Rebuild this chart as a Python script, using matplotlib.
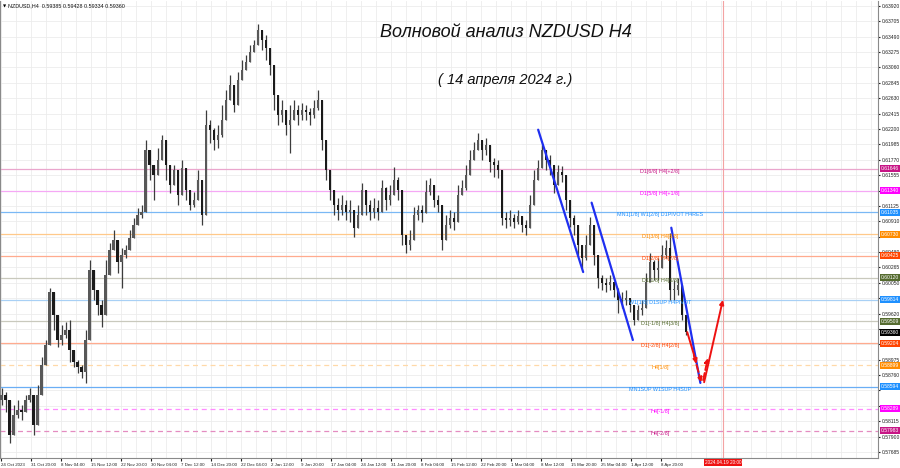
import matplotlib

matplotlib.use("Agg")
import matplotlib.pyplot as plt  # noqa: E402
from matplotlib.transforms import blended_transform_factory  # noqa: E402

NARROW = ["Liberation Sans Narrow", "Liberation Sans", "DejaVu Sans"]

# --- price data: one candle per ~4.3 H4 bars -----------------------------
highs = [
    0.5858, 0.5852, 0.5820, 0.5834, 0.5841, 0.5834, 0.5848, 0.5858, 0.5848, 0.5862,
    0.5901, 0.5925, 0.5998, 0.5981, 0.5939, 0.5946, 0.5950, 0.5953, 0.5904, 0.5897,
    0.5890, 0.5939, 0.6037, 0.6012, 0.5988, 0.5981, 0.6037, 0.6061, 0.6079, 0.6051,
    0.6054, 0.6058, 0.6079, 0.6096, 0.6110, 0.6114, 0.6205, 0.6191, 0.6170, 0.6193,
    0.6212, 0.6184, 0.6163, 0.6170, 0.6149, 0.6177, 0.6149, 0.6124, 0.6132, 0.6163,
    0.6114, 0.6247, 0.6233, 0.6221, 0.6226, 0.6254, 0.6275, 0.6296, 0.6275, 0.6300,
    0.6317, 0.6324, 0.6337, 0.6345, 0.6367, 0.6356, 0.6351, 0.6324, 0.6282, 0.6261,
    0.6261, 0.6247, 0.6254, 0.6261, 0.6254, 0.6256, 0.6254, 0.6249, 0.6261, 0.6275,
    0.6240, 0.6191, 0.6156, 0.6128, 0.6124, 0.6128, 0.6121, 0.6121, 0.6100, 0.6114,
    0.6145, 0.6128, 0.6121, 0.6124, 0.6121, 0.6149, 0.6139, 0.6142, 0.6167, 0.6153,
    0.6128, 0.6072, 0.6079, 0.6111, 0.6114, 0.6114, 0.6149, 0.6152, 0.6135, 0.6128,
    0.6082, 0.6100, 0.6107, 0.6104, 0.6142, 0.6149, 0.6170, 0.6191, 0.6202, 0.6215,
    0.6205, 0.6207, 0.6184, 0.6180, 0.6177, 0.6114, 0.6104, 0.6107, 0.6101, 0.6107,
    0.6098, 0.6093, 0.6128, 0.6163, 0.6177, 0.6198, 0.6188, 0.6184, 0.6156, 0.6170,
    0.6168, 0.6135, 0.6110, 0.6100, 0.6072, 0.6054, 0.6072, 0.6097, 0.6058, 0.6030,
    0.6016, 0.6012, 0.6016, 0.6005, 0.5998, 0.5992, 0.5995, 0.5984, 0.5967, 0.5974,
    0.5981, 0.6019, 0.6047, 0.6037, 0.6040, 0.6058, 0.6065, 0.6075, 0.6009, 0.6012,
    0.5988, 0.5956,
]
lows = [
    0.5834, 0.5824, 0.5781, 0.5806, 0.5816, 0.5813, 0.5827, 0.5838, 0.5792, 0.5834,
    0.5880, 0.5897, 0.5953, 0.5939, 0.5915, 0.5918, 0.5928, 0.5894, 0.5887, 0.5879,
    0.5872, 0.5865, 0.5981, 0.5981, 0.5960, 0.5943, 0.5995, 0.6030, 0.6055, 0.6019,
    0.5998, 0.6040, 0.6058, 0.6076, 0.6093, 0.6096, 0.6104, 0.6149, 0.6121, 0.6156,
    0.6191, 0.6149, 0.6131, 0.6149, 0.6114, 0.6156, 0.6121, 0.6107, 0.6111, 0.6128,
    0.6086, 0.6100, 0.6200, 0.6191, 0.6193, 0.6209, 0.6247, 0.6261, 0.6244, 0.6275,
    0.6291, 0.6303, 0.6319, 0.6328, 0.6337, 0.6330, 0.6317, 0.6296, 0.6247, 0.6226,
    0.6230, 0.6212, 0.6187, 0.6233, 0.6226, 0.6233, 0.6233, 0.6226, 0.6235, 0.6247,
    0.6191, 0.6149, 0.6121, 0.6100, 0.6093, 0.6100, 0.6093, 0.6090, 0.6069, 0.6086,
    0.6114, 0.6100, 0.6093, 0.6096, 0.6093, 0.6124, 0.6107, 0.6114, 0.6128, 0.6121,
    0.6058, 0.6047, 0.6051, 0.6086, 0.6093, 0.6090, 0.6117, 0.6128, 0.6111, 0.6104,
    0.6051, 0.6072, 0.6082, 0.6079, 0.6114, 0.6128, 0.6135, 0.6163, 0.6177, 0.6191,
    0.6177, 0.6184, 0.6160, 0.6153, 0.6152, 0.6086, 0.6082, 0.6084, 0.6082, 0.6087,
    0.6076, 0.6072, 0.6086, 0.6135, 0.6153, 0.6170, 0.6163, 0.6156, 0.6131, 0.6149,
    0.6146, 0.6107, 0.6083, 0.6072, 0.6044, 0.6026, 0.6037, 0.6065, 0.6030, 0.5998,
    0.5995, 0.5992, 0.5995, 0.5985, 0.5963, 0.5970, 0.5974, 0.5964, 0.5946, 0.5956,
    0.5960, 0.5995, 0.6016, 0.6009, 0.6009, 0.6033, 0.6040, 0.5981, 0.5981, 0.5988,
    0.5953, 0.5932,
]
closes = [
    0.5848, 0.5841, 0.5792, 0.5820, 0.5827, 0.5824, 0.5841, 0.5848, 0.5806, 0.5848,
    0.5890, 0.5918, 0.5992, 0.5960, 0.5925, 0.5932, 0.5939, 0.5911, 0.5894, 0.5887,
    0.5880, 0.5925, 0.6023, 0.5995, 0.5974, 0.5960, 0.6016, 0.6051, 0.6065, 0.6034,
    0.6044, 0.6051, 0.6068, 0.6086, 0.6100, 0.6104, 0.6191, 0.6170, 0.6156, 0.6177,
    0.6205, 0.6170, 0.6142, 0.6163, 0.6128, 0.6166, 0.6135, 0.6114, 0.6121, 0.6149,
    0.6100, 0.6226, 0.6219, 0.6205, 0.6212, 0.6233, 0.6261, 0.6282, 0.6254, 0.6289,
    0.6303, 0.6314, 0.6328, 0.6337, 0.6358, 0.6345, 0.6333, 0.6310, 0.6268, 0.6240,
    0.6247, 0.6226, 0.6233, 0.6247, 0.6240, 0.6247, 0.6244, 0.6240, 0.6249, 0.6261,
    0.6205, 0.6163, 0.6135, 0.6114, 0.6107, 0.6114, 0.6104, 0.6107, 0.6082, 0.6100,
    0.6135, 0.6114, 0.6104, 0.6110, 0.6104, 0.6138, 0.6121, 0.6128, 0.6149, 0.6135,
    0.6072, 0.6058, 0.6065, 0.6100, 0.6107, 0.6103, 0.6132, 0.6142, 0.6121, 0.6114,
    0.6065, 0.6086, 0.6096, 0.6090, 0.6128, 0.6138, 0.6156, 0.6177, 0.6191, 0.6205,
    0.6191, 0.6198, 0.6174, 0.6170, 0.6163, 0.6096, 0.6093, 0.6096, 0.6090, 0.6098,
    0.6086, 0.6082, 0.6114, 0.6149, 0.6166, 0.6191, 0.6177, 0.6170, 0.6142, 0.6160,
    0.6156, 0.6121, 0.6096, 0.6086, 0.6058, 0.6040, 0.6058, 0.6086, 0.6044, 0.6012,
    0.6005, 0.6002, 0.6006, 0.5995, 0.5981, 0.5981, 0.5984, 0.5974, 0.5953, 0.5967,
    0.5970, 0.6006, 0.6034, 0.6023, 0.6026, 0.6044, 0.6054, 0.5995, 0.5995, 0.6002,
    0.5960, 0.5936,
]
first_open = 0.5841

# time axis, in H4 bars
date_labels = [
    "24 Oct 2023", "31 Oct 20:00", "8 Nov 04:00", "15 Nov 12:00", "22 Nov 20:00",
    "30 Nov 04:00", "7 Dec 12:00", "14 Dec 20:00", "22 Dec 04:00", "2 Jan 12:00",
    "9 Jan 20:00", "17 Jan 04:00", "24 Jan 12:00", "31 Jan 20:00", "8 Feb 04:00",
    "15 Feb 12:00", "22 Feb 20:00", "1 Mar 04:00", "8 Mar 12:00", "15 Mar 20:00",
    "25 Mar 04:00", "1 Apr 12:00", "8 Apr 20:00",
]
BARS_PER_LABEL = 32
BARS_PER_CANDLE = BARS_PER_LABEL / 7.5
future_bar = 770
future_label = "2024.04.19 20:00"

price_ticks = [
    0.63920, 0.63705, 0.63490, 0.63275, 0.63060, 0.62845, 0.62630, 0.62415,
    0.62200, 0.61985, 0.61770, 0.61555, 0.61340, 0.61125, 0.60910, 0.60695,
    0.60480, 0.60265, 0.60050, 0.59835, 0.59620, 0.59405, 0.59190, 0.58975,
    0.58760, 0.58545, 0.58330, 0.58115, 0.57900, 0.57685,
]

# Murrey / pivot levels
levels = [0.61646, 0.61340, 0.61035, 0.60730, 0.60425, 0.60120, 0.59814,
          0.59509, 0.59204, 0.58899, 0.58594, 0.58289, 0.57983]
level_names = [
    "D1[6/8] H4[+2/8]", "D1[5/8] H4[+1/8]", "MN1[1/8] W1[2/8] D1PIVOT H4RES",
    "D1[3/8] H4[8/8]", "D1[2/8] H4[7/8]", "D1[1/8] H4[6/8]",
    "W1[1/8] D1SUP H4PIVOT", "D1[-1/8] H4[3/8]", "D1[-2/8] H4[2/8]",
    "H4[1/8]", "MN1SUP W1SUP H4SUP", "H4[-1/8]", "H4[-2/8]",
]
level_colors = ["#c71585", "#ff00ff", "#1e90ff", "#ff8c00", "#ff4500", "#556b2f",
                "#1e90ff", "#556b2f", "#ff4500", "#ff8c00", "#1e90ff", "#ff00ff",
                "#c71585"]
line_colors = ["#eaa6cd", "#f5a8f5", "#7ab8f5", "#ffc98a", "#ffab8f", "#c9c9bd",
               "#a8d0f5", "#c9c9bd", "#ffab8f", "#ffd9a8", "#6aaef5", "#ff8cff",
               "#e48cc0"]
line_dashed = [False] * 9 + [True, False, True, True]
last_price = 0.59360

# wave markup: (bar0, price0, bar1, price1)
blue_lines = [(573, 0.6219, 621, 0.6020),
              (630, 0.6117, 674, 0.5925),
              (715, 0.6082, 746, 0.5865)]
red_arrows = [(732, 0.5936, 742, 0.5892, "-"),
              (739, 0.5904, 747, 0.5866, "--"),
              (749, 0.5869, 754, 0.5900, "--"),
              (750, 0.5866, 770, 0.5981, "-")]

# --- figure ---------------------------------------------------------------
fig = plt.figure(figsize=(9, 4.68), dpi=100)
ax = fig.add_axes([0.0, 0.0214, 0.9756, 0.9766])
ax.set_xlim(-1, 935.5)
ax.set_ylim(0.57601, 0.63990)

# grid
for t in price_ticks:
    ax.axhline(t, color="#ececec", lw=0.6, zorder=0)
for k in range(0, 60):
    ax.axvline(k * BARS_PER_LABEL / 2, color="#ececec", lw=0.6, zorder=0)

# levels
for p, lc, dashed in zip(levels, line_colors, line_dashed):
    ax.axhline(p, color=lc, lw=0.9, ls=(0, (4, 3)) if dashed else "-", zorder=1)
for p, name, c in zip(levels, level_names, level_colors):
    ax.text(703, p, name, color=c, fontsize=3.9, family=NARROW, ha="center",
            va="top", zorder=6)

# future marker
ax.axvline(future_bar, color="#f3a3a3", lw=0.8, zorder=1)

# candles
opens = [first_open] + closes[:-1]
for i, (o, h, l, c) in enumerate(zip(opens, highs, lows, closes)):
    x = 1.07 + i * BARS_PER_CANDLE
    ax.vlines(x, min(l, o, c), max(h, o, c), color="#3c3c3c", lw=0.9, zorder=3)
    body = max(abs(c - o), 0.00008)
    ax.bar(x, body, bottom=min(o, c), width=3.1,
           color="#1a1a1a" if c < o else "#585858", lw=0, zorder=3)

# wave lines
for x0, y0, x1, y1 in blue_lines:
    ax.plot([x0, x1], [y0, y1], color="#1f2ff0", lw=1.6, zorder=4,
            solid_capstyle="round")
for x0, y0, x1, y1, ls in red_arrows:
    ax.annotate("", xy=(x1, y1), xytext=(x0, y0), zorder=5,
                arrowprops=dict(arrowstyle="-|>", color="#ee1111", lw=1.4,
                                ls=ls, mutation_scale=6, shrinkA=0, shrinkB=0))

# titles
ax.text(0.576, 0.93, "Волновой анализ NZDUSD H4", transform=ax.transAxes,
        fontsize=13, style="italic", family="Liberation Sans", ha="center",
        va="center", color="#111")
ax.text(0.575, 0.827, "( 14 апреля 2024 г.)", transform=ax.transAxes,
        fontsize=10.5, style="italic", family="Liberation Sans", ha="center",
        va="center", color="#111")
ax.text(0.003, 0.993, "▼", transform=ax.transAxes, fontsize=3, va="top")
ax.text(0.009, 0.994, "NZDUSD,H4  0.59385 0.59428 0.59334 0.59360",
        transform=ax.transAxes, fontsize=3.9, family=NARROW, va="top",
        color="#111")

# axes styling
ax.spines["top"].set_visible(False)
for side in ("left", "bottom", "right"):
    ax.spines[side].set_color("#8a8a8a")
    ax.spines[side].set_linewidth(0.8)

# price ticks on the right; ones hidden under a level box stay unlabeled
boxed = levels + [last_price]
ax.yaxis.tick_right()
ax.set_yticks(price_ticks)
ax.set_yticklabels([
    "" if min(abs(t - b) for b in boxed) < 0.0005 else f"{t:.5f}"
    for t in price_ticks
])
ax.tick_params(axis="y", labelsize=3.6, length=1.5, pad=1.2, colors="#222")

ax.set_xticks([k * BARS_PER_LABEL for k in range(len(date_labels))])
ax.set_xticklabels(date_labels)
ax.tick_params(axis="x", labelsize=3.2, length=2, pad=1.5, colors="#222")
for lbl in ax.get_xticklabels() + ax.get_yticklabels():
    lbl.set_family(NARROW)
plt.setp(ax.get_xticklabels(), ha="left")

# price boxes on the right axis
tr = blended_transform_factory(ax.transAxes, ax.transData)
for p, c in zip(boxed, level_colors + ["#000000"]):
    ax.text(1.003, p, f"{p:.5f}", transform=tr, fontsize=3.6, family=NARROW,
            color="white", ha="left", va="center", zorder=8, clip_on=False,
            bbox=dict(boxstyle="square,pad=0.2", fc=c, ec="none"))

tr_x = blended_transform_factory(ax.transData, ax.transAxes)
ax.text(future_bar, -0.005, future_label, transform=tr_x, fontsize=3.4,
        family=NARROW, color="white", ha="center", va="top", zorder=8,
        clip_on=False, bbox=dict(boxstyle="square,pad=0.2", fc="#ee1111",
                                 ec="none"))

fig.savefig("out.png", dpi=100, facecolor="white")
plt.close(fig)
